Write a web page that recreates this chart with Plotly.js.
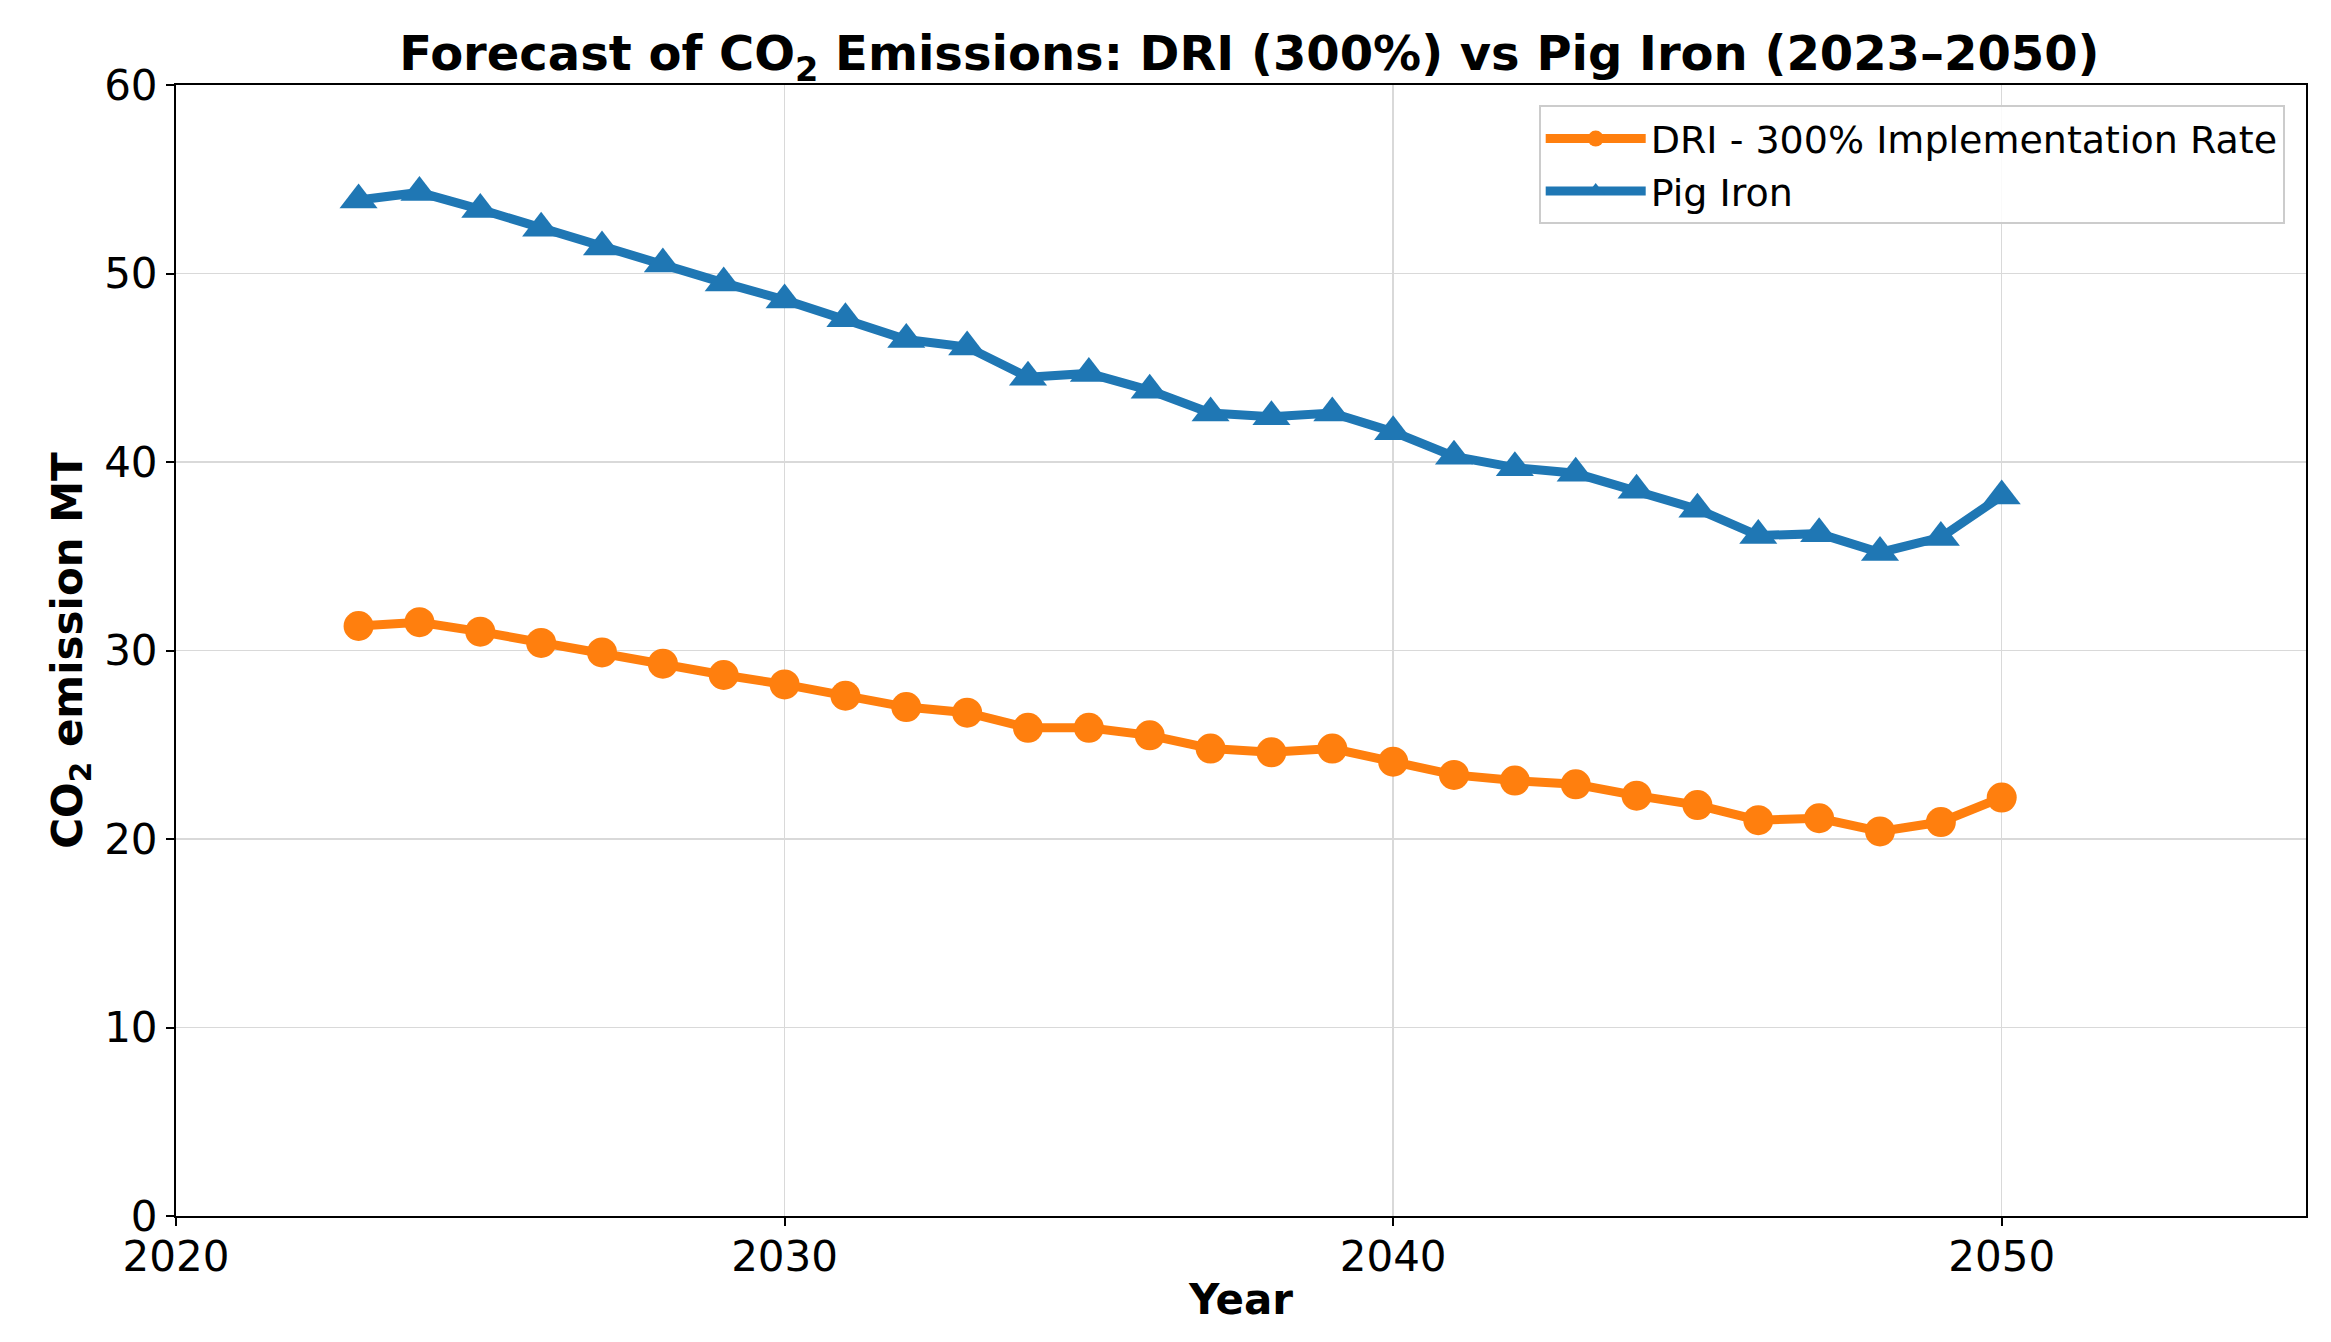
<!DOCTYPE html>
<html>
<head>
<meta charset="utf-8">
<script src="https://cdn.plot.ly/plotly-3.0.1.min.js"></script>
<style>html,body{margin:0;padding:0;background:#fff;} #chart{width:2331px;height:1342px;}</style>
</head>
<body>
<div id="chart"></div>
<script>
const years = [2023,2024,2025,2026,2027,2028,2029,2030,2031,2032,2033,2034,2035,2036,2037,2038,2039,2040,2041,2042,2043,2044,2045,2046,2047,2048,2049,2050];
const driValues = [31.3,31.5,31.0,30.4,29.9,29.3,28.7,28.2,27.6,27.0,26.7,25.9,25.9,25.5,24.8,24.6,24.8,24.1,23.4,23.1,22.9,22.3,21.8,21.0,21.1,20.4,20.9,22.2];
const pigIronValues = [53.9,54.3,53.4,52.4,51.4,50.5,49.5,48.6,47.6,46.5,46.1,44.5,44.7,43.8,42.6,42.4,42.6,41.6,40.3,39.7,39.4,38.5,37.5,36.1,36.2,35.2,36.0,38.2];
const xTicks = [2020,2030,2040,2050];
const yTicks = [0,10,20,30,40,50,60];
const seriesNames = ["DRI - 300% Implementation Rate","Pig Iron"];

const FONT = "DejaVu Sans, sans-serif";
const traces = [
  {x: years, y: driValues, name: seriesNames[0], mode: "lines+markers",
   line: {color: "#ff7f0e", width: 9}, marker: {symbol: "circle", size: 30, color: "#ff7f0e"}},
  {x: years, y: pigIronValues, name: seriesNames[1], mode: "lines+markers",
   line: {color: "#1f77b4", width: 9}, marker: {symbol: "triangle-up", size: 33, color: "#1f77b4"}}
];
const layout = {
  width: 2331, height: 1342,
  margin: {l: 176, r: 25, t: 85, b: 126},
  paper_bgcolor: "#fff", plot_bgcolor: "#fff",
  font: {family: FONT, color: "#000", size: 42},
  title: {text: "<b>Forecast of CO<sub>2</sub> Emissions: DRI (300%) vs Pig Iron (2023–2050)</b>",
          font: {family: FONT, size: 48, color: "#000"}, x: 0.536, xanchor: "center", y: 0.96, yanchor: "middle"},
  xaxis: {range: [2020, 2055], tickvals: xTicks, ticktext: xTicks.map(String),
          showline: true, linecolor: "#000", linewidth: 2, mirror: true,
          ticks: "outside", ticklen: 8, tickwidth: 2, tickcolor: "#000",
          ticklabelstandoff: -5,
          showgrid: true, gridcolor: "#d9d9d9", gridwidth: 1.5, zeroline: false,
          tickfont: {family: FONT, size: 42},
          title: {text: "<b>Year</b>", font: {family: FONT, size: 42}, standoff: 4}},
  yaxis: {range: [0, 60], tickvals: yTicks,
          showline: true, linecolor: "#000", linewidth: 2, mirror: true,
          ticks: "outside", ticklen: 8, tickwidth: 2, tickcolor: "#000",
          showgrid: true, gridcolor: "#d9d9d9", gridwidth: 1.5, zeroline: false,
          tickfont: {family: FONT, size: 42},
          title: {text: "<b>CO<sub>2</sub> emission MT</b>", font: {family: FONT, size: 42}, standoff: 8}},
  legend: {x: 0.99, xanchor: "right", y: 0.982, yanchor: "top",
           bgcolor: "rgba(255,255,255,0.85)", bordercolor: "#cccccc", borderwidth: 2,
           font: {family: FONT, size: 38}, itemwidth: 100, tracegroupgap: 12},
  showlegend: true
};
Plotly.newPlot("chart", traces, layout, {displayModeBar: false, staticPlot: true});
</script>
</body>
</html>
